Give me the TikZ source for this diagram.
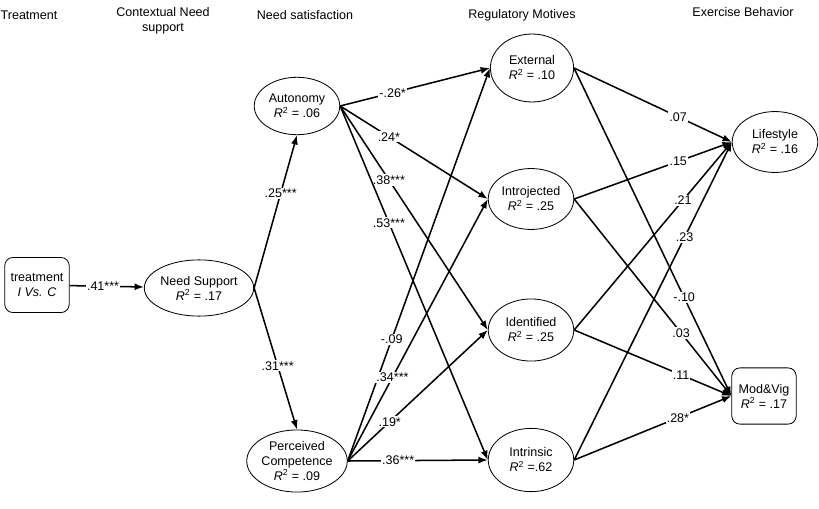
\documentclass[tikz,border=0pt]{standalone}
\usepackage{fontspec}
\setmainfont{Liberation Sans}
\usepackage{tikz}
\usetikzlibrary{shapes.geometric,arrows.meta}
\newcommand{\lbl}{\fontsize{10.7}{12.8}\selectfont}
\newcommand{\rsq}[1]{\textit{R}\textsuperscript{2} #1}
\tikzset{
  var/.style={draw, ellipse, line width=0.7pt, inner sep=0pt, align=center, font=\lbl},
  obs/.style={draw, rounded corners=7pt, line width=0.7pt, inner sep=0pt, align=center, font=\lbl},
  eff/.style={draw, line width=1.3pt, -{Latex[length=8pt,width=6pt]}},
  coef/.style={fill=white, inner sep=1pt, font=\lbl},
  head/.style={align=center, font=\lbl}
}

\begin{document}
\begin{tikzpicture}[x=0.03cm, y=-0.03cm]
  \useasboundingbox (0,0) rectangle (819,508);

  % column headings
  \node[head] (hTreat) at (29,15) {Treatment};
  \node[head] (hCtx) at (163,21) {Contextual Need\\support};
  \node[head] (hNeed) at (305,15) {Need satisfaction};
  \node[head] (hReg) at (522,15) {Regulatory Motives};
  \node[head] (hEx) at (743,12) {Exercise Behavior};

  \node[obs, minimum width=55pt, minimum height=47pt] (treat) at (37,285) {treatment\\\textit{I Vs. C}};
  \node[var, minimum width=82pt, minimum height=48pt] (need) at (199,288) {Need Support\\\rsq{= .17}};

  \node[var, minimum width=73pt, minimum height=49pt] (aut) at (297,106) {Autonomy\\\rsq{= .06}};
  \node[var, minimum width=73pt, minimum height=53pt] (comp) at (297,461) {Perceived\\Competence\\\rsq{= .09}};

  \node[var, minimum width=71pt, minimum height=58pt] (ext) at (532,68) {External\\\rsq{= .10}};
  \node[var, minimum width=73pt, minimum height=52pt] (intro) at (531,199) {Introjected\\\rsq{= .25}};
  \node[var, minimum width=73pt, minimum height=53pt] (ident) at (531,330) {Identified\\\rsq{= .25}};
  \node[var, minimum width=73pt, minimum height=54pt] (intr) at (531,460) {Intrinsic\\\rsq{=.62}};

  \node[var, minimum width=73pt, minimum height=52pt] (life) at (775,142) {Lifestyle\\\rsq{= .16}};
  \node[obs, minimum width=55pt, minimum height=48pt] (modvig) at (764,396) {Mod\&Vig\\\rsq{= .17}};

  \draw[eff] (treat) -- node[coef, pos=0.45] {.41***} (need);
  \draw[eff] (need.east) -- node[coef, pos=0.62] {.25***} (aut.south);
  \draw[eff] (need.east) -- node[coef, pos=0.55] {.31***} (comp.north);

  % need satisfaction -> motives
  \draw[eff] (aut.east) -- node[coef, pos=0.35] {-.26*} (ext.west);
  \draw[eff] (aut.east) -- node[coef, pos=0.33] {.24*} (intro.west);
  \draw[eff] (aut.east) -- node[coef, pos=0.33] {.38***} (ident.west);
  \draw[eff] (aut.east) -- node[coef, pos=0.33] {.53***} (intr.west);
  \draw[eff] (comp.east) -- node[coef, pos=0.31] {-.09} (ext.west);
  \draw[eff] (comp.east) -- node[coef, pos=0.32] {.34***} (intro.west);
  \draw[eff] (comp.east) -- node[coef, pos=0.3] {.19*} (ident.west);
  \draw[eff] (comp.east) -- node[coef, pos=0.36] {.36***} (intr.west);

  % motives -> behavior
  \draw[eff] (ext.east) -- node[coef, pos=0.66] {.07} (life.west);
  \draw[eff] (intro.east) -- node[coef, pos=0.66] {.15} (life.west);
  \draw[eff] (ident.east) -- node[coef, pos=0.69] {.21} (life.west);
  \draw[eff] (intr.east) -- node[coef, pos=0.7] {.23} (life.west);
  \draw[eff] (ext.east) -- node[coef, pos=0.7] {-.10} (modvig.west);
  \draw[eff] (intro.east) -- node[coef, pos=0.68] {.03} (modvig.west);
  \draw[eff] (ident.east) -- node[coef, pos=0.68] {.11} (modvig.west);
  \draw[eff] (intr.east) -- node[coef, pos=0.66] {.28*} (modvig.west);
\end{tikzpicture}
\end{document}
